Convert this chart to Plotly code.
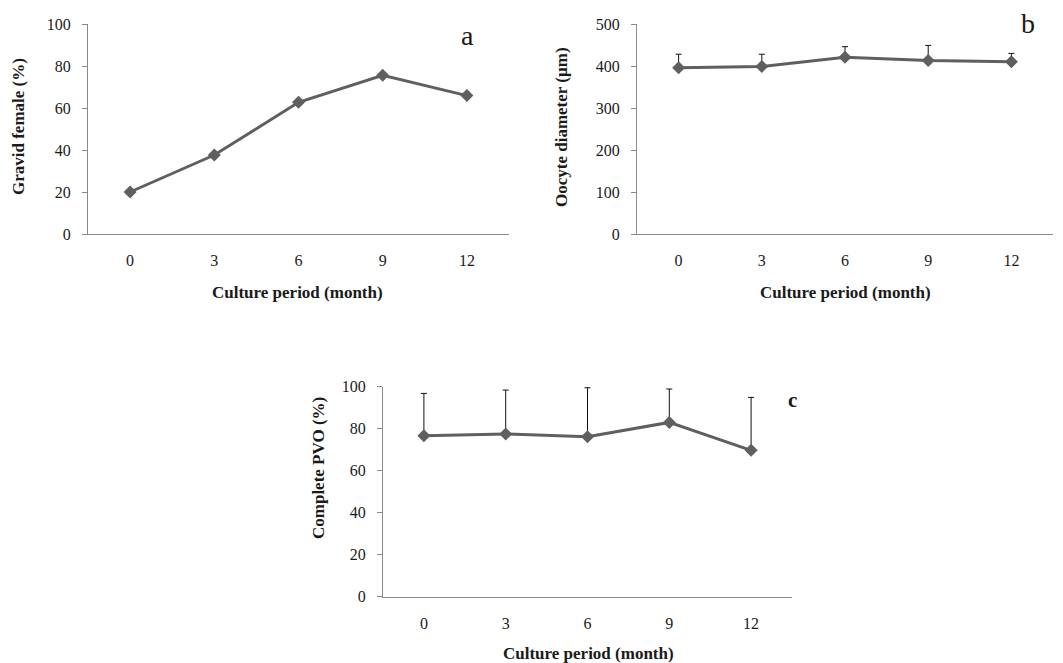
import plotly.graph_objects as go

months = ["0", "3", "6", "9", "12"]
gravid = [20, 37.6, 62.7, 75.6, 65.9]
oocyte = [396, 399, 421, 413, 410]
oocyte_err = [32, 29, 25, 36, 20]
pvo = [76.7, 77.5, 76.2, 83.0, 69.7]
pvo_err = [20.1, 20.9, 23.3, 15.9, 25.2]

W, H = 1063, 663
LINE = "#5f5f5f"
AXIS = "#8a8a8a"
FONT = "Liberation Serif"
TXT = "#1a1a1a"

def px(x):
    return x / W

def py(y):
    return 1 - y / H

fig = go.Figure()

def add_series(y, err, xa, ya):
    kw = {}
    if err is not None:
        kw["error_y"] = dict(type="data", symmetric=False, array=err,
                             arrayminus=[0] * len(err), color="#111111",
                             thickness=1, width=3)
    fig.add_trace(go.Scatter(x=months, y=y, mode="lines+markers",
                             line=dict(color=LINE, width=3),
                             marker=dict(symbol="diamond", size=10, color=LINE),
                             xaxis=xa, yaxis=ya, showlegend=False, **kw))

add_series(gravid, None, "x", "y")
add_series(oocyte, oocyte_err, "x2", "y2")
add_series(pvo, pvo_err, "x3", "y3")

panels = [
    # (xdomain px, ydomain px (top,bottom), yrange, dtick)
    ((88, 509), (24, 234), [0, 100], 20),
    ((637, 1053), (24, 234), [0, 500], 100),
    ((383, 792), (386.7, 596.7), [0, 100], 20),
]

layout = dict(width=W, height=H, margin=dict(l=0, r=0, t=0, b=0, autoexpand=False),
              plot_bgcolor="white", paper_bgcolor="white",
              font=dict(family=FONT, size=16, color=TXT))

for i, (xd, yd, yr, dt) in enumerate(panels):
    sfx = "" if i == 0 else str(i + 1)
    anchor_x = "y" + sfx
    anchor_y = "x" + sfx
    layout["xaxis" + sfx] = dict(domain=[px(xd[0]), px(xd[1])], anchor=anchor_x,
                                 type="category", range=[-0.5, 4.5],
                                 automargin=False,
                                 showline=True, linecolor=AXIS, linewidth=1.3,
                                 showgrid=False, zeroline=False, ticks="",
                                 ticklabelstandoff=12,
                                 tickfont=dict(family=FONT, size=16, color=TXT))
    layout["yaxis" + sfx] = dict(domain=[py(yd[1]), py(yd[0])], anchor=anchor_y,
                                 range=yr, dtick=dt, tick0=0,
                                 automargin=False,
                                 showline=True, linecolor=AXIS, linewidth=1.3,
                                 showgrid=False, zeroline=False,
                                 ticks="outside", ticklen=5, tickcolor=AXIS,
                                 tickwidth=1.3, ticklabelstandoff=8,
                                 tickfont=dict(family=FONT, size=16, color=TXT))

fig.update_layout(**layout)

ann = []
def text(x, y, s, size, bold=True, angle=0):
    ann.append(dict(x=px(x), y=py(y), xref="paper", yref="paper",
                    text=("<b>%s</b>" % s) if bold else s, showarrow=False,
                    textangle=angle, xanchor="center", yanchor="middle",
                    font=dict(family=FONT, size=size, color=TXT)))

text(19, 127, "Gravid female (%)", 17, angle=-90)
text(562, 127, "Oocyte diameter (µm)", 17, angle=-90)
text(318, 468, "Complete PVO (%)", 17, angle=-90)
text(297, 292, "Culture period (month)", 17)
text(845, 292, "Culture period (month)", 17)
text(588, 653, "Culture period (month)", 17)
text(467, 35, "a", 28, bold=False)
text(1028, 24, "b", 28, bold=False)
text(792, 400, "c", 21)

fig.update_layout(annotations=ann)
fig.write_html("out.html", config={"displayModeBar": False},
               post_script="document.body.style.margin='0px';document.body.style.overflow='hidden';")
